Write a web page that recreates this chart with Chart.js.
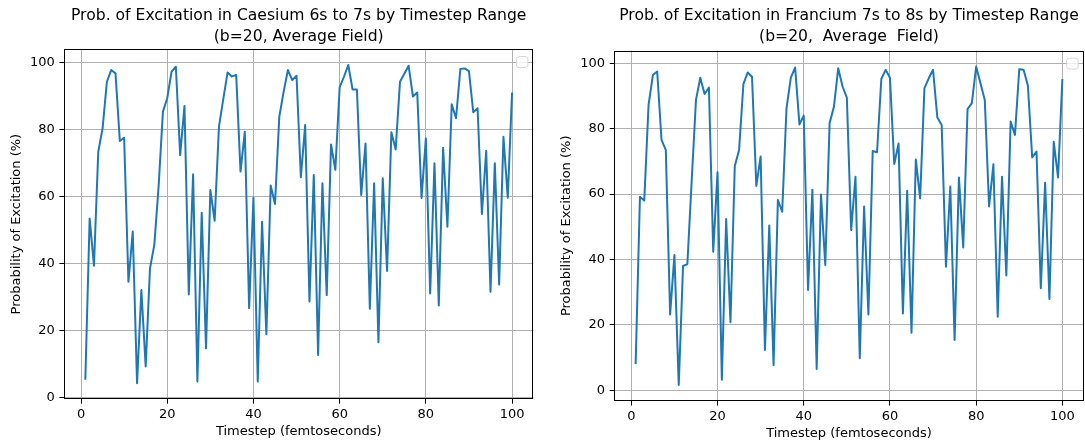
<!DOCTYPE html>
<html><head><meta charset="utf-8">
<script src="https://cdn.jsdelivr.net/npm/chart.js@4.4.1/dist/chart.umd.min.js"></script>
<style>
html,body{margin:0;padding:0;background:#fff;overflow:hidden;width:1085px;height:444px}
.box{position:absolute;top:0;height:444px}
#b1{left:0;width:542px}
#b2{left:550px;width:535px}
</style></head><body>
<div class="box" id="b1"><canvas id="c1" width="542" height="444"></canvas></div>
<div class="box" id="b2"><canvas id="c2" width="535" height="444"></canvas></div>
<script>
const timesteps = [1,2,3,4,5,6,7,8,9,10,11,12,13,14,15,16,17,18,19,20,
  21,22,23,24,25,26,27,28,29,30,31,32,33,34,35,36,37,38,39,40,
  41,42,43,44,45,46,47,48,49,50,51,52,53,54,55,56,57,58,59,60,
  61,62,63,64,65,66,67,68,69,70,71,72,73,74,75,76,77,78,79,80,
  81,82,83,84,85,86,87,88,89,90,91,92,93,94,95,96,97,98,99,100];

const caesiumProb = [5.2,53.4,39.3,73.3,80.3,94.2,97.7,96.7,76.5,77.5,
  34.5,49.5,4.2,32,9.2,38.5,45.5,63,85.3,89.3,
  97.2,98.7,72.3,87,30.7,66.6,4.7,55.1,14.6,61.9,
  52.7,80.8,89,97,95.8,96.2,67.4,79.3,26.6,59.6,
  4.7,52.4,18.8,63.2,57.7,83.8,91.2,97.7,94.7,96,
  65.7,81.3,28.6,66.4,12.6,63.9,30.5,75.5,67.9,92.5,
  95.7,99.2,91.9,91.9,60.4,75.8,26.4,63.9,16.4,65.4,
  37.7,79.1,74,94.2,96.6,99,89.8,91,59.5,77.3,
  31,69.9,27.4,74.5,50.9,87.5,83.3,98,98.2,97.4,
  85.1,86.3,54.7,73.6,31.5,69.9,33.7,77.8,59.6,91];

const franciumProb = [8,59.2,58,87.3,96.4,97.5,76.6,73.5,23.2,41.4,
  1.6,38,38.6,64,88.8,95.6,90.6,92.6,42.4,66.7,
  3.2,52.4,20.8,68.6,73.5,93.6,97.2,95.9,62.5,71.5,
  12.3,50.4,7.7,58.2,54.6,86.2,95.6,98.7,81.3,84,
  30.7,61.3,6.5,59.9,38.3,81.7,86.7,98.5,92.9,89.5,
  49,65.3,9.8,56.2,23.2,73.2,72.8,95.2,98,95.6,
  69.2,75.5,23.5,61,17.6,70.6,58.7,92.4,95.4,98,
  83.4,81.1,37.8,62.3,15.4,65.1,43.7,86,87.8,99,
  93.9,88.8,56.2,69.1,22.5,65.3,35.1,82.2,78.1,98.2,
  98,93.2,71.2,73,31.2,63.5,27.9,76,65.1,95.2];

const xTickValues = [0,20,40,60,80,100];
const yTickValues = [0,20,40,60,80,100];

const titleCaesium = ['Prob. of Excitation in Caesium 6s to 7s by Timestep Range', '(b=20, Average Field)'];
const titleFrancium = ['Prob. of Excitation in Francium 7s to 8s by Timestep Range', '(b=20,  Average  Field)'];
const xAxisLabel = 'Timestep (femtoseconds)';
const yAxisLabel = 'Probability of Excitation (%)';

Chart.defaults.font.family = 'DejaVu Sans';
Chart.defaults.color = '#000';

const framePlugin = {
  id: 'frame',
  afterDraw(chart) {
    const {ctx, chartArea: a} = chart;
    ctx.save();
    // empty legend box (matplotlib legend without labelled handles)
    const bw = 11.5, bh = 11, r = 2.5;
    const bx = a.right - 5.5 - bw, by = a.top + 7.5;
    ctx.beginPath();
    ctx.moveTo(bx + r, by);
    ctx.arcTo(bx + bw, by, bx + bw, by + bh, r);
    ctx.arcTo(bx + bw, by + bh, bx, by + bh, r);
    ctx.arcTo(bx, by + bh, bx, by, r);
    ctx.arcTo(bx, by, bx + bw, by, r);
    ctx.closePath();
    ctx.fillStyle = 'rgba(255,255,255,0.8)';
    ctx.fill();
    ctx.strokeStyle = '#d6d6d6';
    ctx.lineWidth = 1;
    ctx.stroke();
    // axes frame (all four spines)
    const L = Math.round(a.left) + 0.5, R = Math.round(a.right) - 0.5;
    const T = Math.round(a.top) + 0.5, B = Math.round(a.bottom) - 0.5;
    ctx.strokeStyle = '#000';
    ctx.lineWidth = 1;
    ctx.strokeRect(L, T, R - L, B - T);
    ctx.restore();
  }
};

function makeChart(canvasId, titleLines, values, geom) {
  const points = timesteps.map((t, i) => ({x: t, y: values[i]}));
  const xmin0 = Math.min(...timesteps), xmax0 = Math.max(...timesteps);
  const ymin0 = Math.min(...values), ymax0 = Math.max(...values);
  const xm = (xmax0 - xmin0) * 0.05, ym = (ymax0 - ymin0) * 0.05;
  const tickFont = {family: 'DejaVu Sans', size: 13};
  const gridOpts = {color: '#b0b0b0', lineWidth: 1, tickColor: '#000', tickWidth: 1, tickLength: 4.6, drawTicks: true};
  return new Chart(document.getElementById(canvasId), {
    type: 'line',
    data: {datasets: [{
      data: points,
      borderColor: '#1f77b4',
      borderWidth: 2,
      pointRadius: 0,
      pointHoverRadius: 0,
      tension: 0,
      fill: false,
      borderJoinStyle: 'round',
      borderCapStyle: 'butt'
    }]},
    options: {
      responsive: false,
      animation: false,
      devicePixelRatio: 1,
      events: [],
      layout: {padding: {left: 0, right: geom.padRight, top: 0, bottom: 0}},
      plugins: {
        legend: {display: false},
        tooltip: {enabled: false},
        title: {
          display: true,
          fullSize: false,
          text: titleLines,
          color: '#000',
          font: {family: 'DejaVu Sans', size: 15.6, weight: 'normal', lineHeight: 1.35},
          padding: {top: 5, bottom: geom.titlePadBottom}
        }
      },
      scales: {
        x: {
          type: 'linear',
          min: xmin0 - xm,
          max: xmax0 + xm,
          afterBuildTicks: s => { s.ticks = xTickValues.map(v => ({value: v})); },
          afterFit: s => { s.height = geom.xAxisH; },
          grid: gridOpts,
          border: {display: false},
          ticks: {font: tickFont, color: '#000', padding: 3, maxRotation: 0, autoSkip: false},
          title: {display: true, text: xAxisLabel, color: '#000', font: tickFont, padding: {top: 0, bottom: geom.xTitlePad}}
        },
        y: {
          type: 'linear',
          min: ymin0 - ym,
          max: ymax0 + ym,
          afterBuildTicks: s => { s.ticks = yTickValues.map(v => ({value: v})); },
          afterFit: s => { s.width = geom.yAxisW; },
          grid: gridOpts,
          border: {display: false},
          ticks: {font: tickFont, color: '#000', padding: 4.6, autoSkip: false},
          title: {display: true, text: yAxisLabel, color: '#000', font: tickFont, padding: {top: 9, bottom: 0}}
        }
      }
    },
    plugins: [framePlugin]
  });
}

makeChart('c1', titleCaesium, caesiumProb, {padRight: 8.6, titlePadBottom: 2, xAxisH: 44.9, yAxisW: 64, xTitlePad: 4.2});
makeChart('c2', titleFrancium, franciumProb, {padRight: 1.3, titlePadBottom: 3.5, xAxisH: 43, yAxisW: 64.3, xTitlePad: 2.2});
</script>
</body></html>
